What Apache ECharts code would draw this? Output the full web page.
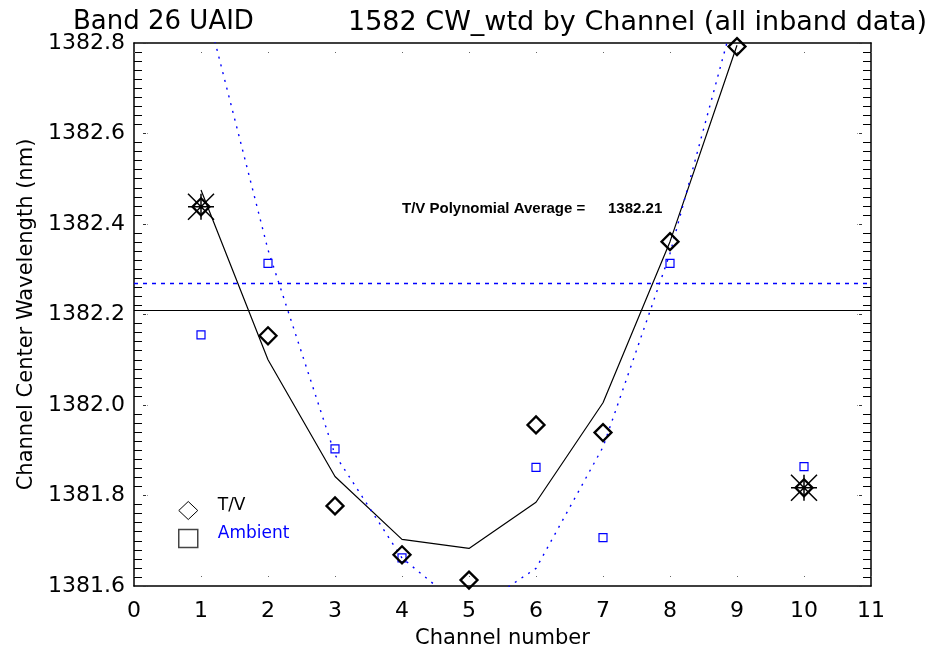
<!DOCTYPE html>
<html>
<head>
<meta charset="utf-8">
<script src="https://cdn.jsdelivr.net/npm/echarts@6/dist/echarts.min.js"></script>
<style>
  html, body { margin: 0; padding: 0; background: #fff; }
  #chart { width: 938px; height: 650px; }
</style>
</head>
<body>
<div id="chart"></div>
<script>
// ---- data ----
const channels = [1, 2, 3, 4, 5, 6, 7, 8, 9, 10];
const tvValues = [1382.438, 1382.153, 1381.777, 1381.669, 1381.613, 1381.956, 1381.939, 1382.361, 1382.792, 1381.817];
const ambientValues = [1382.155, 1382.313, 1381.903, 1381.662, null, 1381.862, 1381.707, 1382.313, null, 1381.864];
const fitChannels = [1, 2, 3, 4, 5, 6, 7, 8, 9];
const tvFit = [1382.475, 1382.100, 1381.842, 1381.703, 1381.683, 1381.785, 1382.005, 1382.361, 1382.795];
const ambientFit = [1382.924, 1382.343, 1381.890, 1381.662, 1381.540, 1381.639, 1381.907, 1382.335, 1382.883];
const flaggedChannels = [1, 10];
const tvAverage = 1382.212;
const ambientAverage = 1382.272;
const xMin = 0, xMax = 11, xStep = 1;
const yMin = 1381.6, yMax = 1382.8, yStep = 0.2;
const titleLeft = 'Band 26 UAID';
const titleRight = '1582 CW_wtd by Channel (all inband data)';
const xName = 'Channel number';
const yName = 'Channel Center Wavelength (nm)';
const avgLabel = 'T/V Polynomial Average =';

// ---- build ----
const pairs = (xs, ys) => xs.map((x, i) => [x, ys[i]]).filter(p => p[1] !== null);
const flagged = flaggedChannels.map(c => [c, tvValues[channels.indexOf(c)]]);
const FONT = 'DejaVu Sans';
const BLUE = '#0000ff';

const majorDots = { color: '#666', width: 1, type: [0, 9, 1, 0] };
const yMajor = { color: '#333', width: 1, type: [0, 9, 3, 1.5, 1, 0] };

function xAxisCfg(pos, labels) {
  return {
    type: 'value', position: pos, min: xMin, max: xMax, interval: xStep,
    axisLine: { show: true, onZero: false, lineStyle: { color: '#000', width: 1.5 } },
    axisTick: { show: true, inside: true, length: 10, lineStyle: majorDots },
    axisLabel: { show: labels, color: '#000', fontFamily: FONT, fontSize: 22, margin: 14 },
    splitLine: { show: false },
    name: labels ? xName : '', nameLocation: 'middle', nameGap: 42, nameMoveOverlap: false,
    nameTextStyle: { color: '#000', fontFamily: FONT, fontSize: 21 }
  };
}
function yAxisCfg(pos, labels) {
  return {
    type: 'value', position: pos, min: yMin, max: yMax, interval: yStep,
    axisLine: { show: true, onZero: false, lineStyle: { color: '#000', width: 1.5 } },
    axisTick: { show: true, inside: true, length: 14, lineStyle: yMajor },
    minorTick: { show: true, splitNumber: 10, length: 8, lineStyle: { color: '#000', width: 1 } },
    axisLabel: { show: labels, color: '#000', fontFamily: FONT, fontSize: 22, margin: 9,
                 formatter: v => v.toFixed(1) },
    splitLine: { show: false }, minorSplitLine: { show: false },
    name: labels ? yName : '', nameLocation: 'middle', nameGap: 97, nameRotate: 90, nameMoveOverlap: false,
    nameTextStyle: { color: '#000', fontFamily: FONT, fontSize: 21 }
  };
}

const chart = echarts.init(document.getElementById('chart'), null, { renderer: 'canvas' });
chart.setOption({
  animation: false,
  backgroundColor: '#fff',
  title: [
    { text: titleLeft, left: 68, top: 4, textStyle: { color: '#000', fontFamily: FONT, fontSize: 26, fontWeight: 'normal' } },
    { text: titleRight, right: 6, top: 4, textStyle: { color: '#000', fontFamily: FONT, fontSize: 27, fontWeight: 'normal' } }
  ],
  grid: { left: 134, right: 67, top: 43, bottom: 64, containLabel: false, outerBoundsMode: 'none' },
  xAxis: [xAxisCfg('bottom', true), xAxisCfg('top', false)],
  yAxis: [yAxisCfg('left', true), yAxisCfg('right', false)],
  legend: {
    orient: 'vertical', left: 173, top: 492, itemWidth: 19, itemHeight: 18, itemGap: 5,
    selectedMode: false,
    formatter: '{t|{name}}',
    textStyle: { fontFamily: FONT, fontSize: 17, color: '#000',
      rich: { t: { fontFamily: FONT, fontSize: 17, padding: [0, 0, 10, 15] } } },
    data: [
      { name: 'T/V', icon: 'diamond', itemStyle: { color: 'transparent', borderColor: '#000', borderWidth: 1, opacity: 1 } },
      { name: 'Ambient', icon: 'rect', itemStyle: { color: 'transparent', borderColor: '#444', borderWidth: 1.5, opacity: 1 },
        textStyle: { color: BLUE, rich: { t: { color: BLUE, fontFamily: FONT, fontSize: 17, padding: [0, 0, 10, 15] } } } }
    ]
  },
  graphic: [
    { type: 'text', left: 402, top: 201, style: { text: avgLabel, font: 'bold 15px "Liberation Sans"', fill: '#000' } },
    { type: 'text', left: 608, top: 201, style: { text: tvAverage.toFixed(2), font: 'bold 15px "Liberation Sans"', fill: '#000' } }
  ],
  series: [
    {
      name: 'T/V fit', type: 'line', data: pairs(fitChannels, tvFit), showSymbol: false, symbol: 'none',
      itemStyle: { color: '#000' },
      lineStyle: { color: '#000', width: 1.2 }, silent: true, clip: true, z: 2,
      markLine: { symbol: 'none', silent: true, label: { show: false },
        lineStyle: { color: '#000', width: 1.2, type: 'solid' }, data: [{ yAxis: tvAverage }] }
    },
    {
      name: 'Ambient fit', type: 'line', data: pairs(fitChannels, ambientFit), showSymbol: false, symbol: 'none',
      itemStyle: { color: BLUE },
      lineStyle: { color: BLUE, width: 1.4, type: [2, 6] }, silent: true, clip: true, z: 2,
      markLine: { symbol: 'none', silent: true, label: { show: false },
        itemStyle: { color: BLUE },
        lineStyle: { color: BLUE, width: 1.3, type: [4, 5], opacity: 1 },
        data: [{ yAxis: ambientAverage, lineStyle: { color: BLUE } }] }
    },
    {
      name: 'Ambient', type: 'scatter', data: pairs(channels, ambientValues), symbol: 'rect', symbolSize: 8,
      itemStyle: { color: 'transparent', borderColor: BLUE, borderWidth: 1.2, opacity: 1 }, z: 3
    },
    {
      name: 'T/V', type: 'scatter', data: pairs(channels, tvValues), symbol: 'diamond', symbolSize: 17,
      itemStyle: { color: 'transparent', borderColor: '#000', borderWidth: 2.3, opacity: 1 }, z: 4, clip: false
    },
    {
      name: 'Flagged', type: 'scatter', data: flagged,
      symbol: 'path://M0,-1L0,1M-1,0L1,0M-1,-1L1,1M-1,1L1,-1', symbolSize: 26,
      itemStyle: { color: 'transparent', borderColor: '#000', borderWidth: 1.5, opacity: 1 }, z: 5
    }
  ]
});
</script>
</body>
</html>
